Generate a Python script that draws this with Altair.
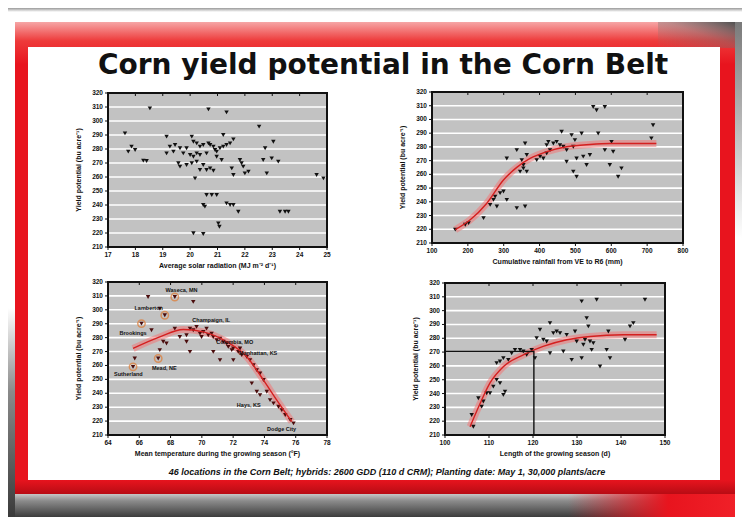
import altair as alt
import pandas as pd

W, H = 734, 509

# ---------------- data ----------------
title_text = "Corn yield potential in the Corn Belt"
footer_text = "46 locations in the Corn Belt; hybrids: 2600 GDD (110 d CRM); Planting date: May 1, 30,000 plants/acre"

y_ticks = [210, 220, 230, 240, 250, 260, 270, 280, 290, 300, 310, 320]
y_title = "Yield potential (bu acre\u207b\u00b9)"

# Panel 1: solar radiation
p1_ticks = [17, 18, 19, 20, 21, 22, 23, 24, 25]
p1_title = "Average solar radiation (MJ m\u207b\u00b2 d\u207b\u00b9)"
p1_x = [18.53, 20.67, 21.33, 22.52, 17.62, 19.14, 20.06, 21.21, 21.58, 23.04,
        17.86, 17.74, 17.99, 19.26, 19.45, 19.63, 19.87, 20.12, 20.24, 20.36,
        20.48, 20.67, 20.73, 20.85, 20.91, 20.97, 21.09, 21.21, 21.33, 21.46,
        22.74, 19.14, 19.39, 19.75, 20.00, 20.12, 20.24, 20.36, 20.60, 20.97,
        21.15, 21.82, 21.88, 22.67, 22.98, 23.22, 18.29, 18.41, 19.57, 19.63,
        19.87, 20.06, 20.24, 20.48, 20.36, 20.60, 20.73, 20.85, 21.52, 21.58,
        21.94, 22.00, 22.13, 22.80, 20.18, 24.62, 24.87, 20.60, 20.79, 20.97,
        20.48, 20.54, 21.33, 21.46, 21.58, 21.76, 23.28, 23.47, 23.59, 21.03,
        21.07, 20.12, 20.48]
p1_y = [309.0, 308.3, 306.2, 296.0, 291.2, 288.8, 288.8, 290.0, 286.9, 285.2,
        281.7, 278.1, 279.3, 281.7, 282.9, 280.5, 280.5, 285.2, 284.0, 281.7,
        282.9, 284.0, 282.9, 281.7, 279.3, 278.1, 280.5, 281.7, 282.9, 284.0,
        280.5, 276.9, 278.1, 276.9, 275.7, 274.5, 276.9, 275.7, 276.9, 274.5,
        272.1, 272.1, 269.8, 272.1, 273.3, 271.0, 271.7, 271.4, 269.8, 267.4,
        268.6, 269.8, 271.0, 268.6, 265.0, 265.0, 266.2, 264.5, 266.2, 261.4,
        267.4, 262.6, 263.8, 262.6, 259.0, 261.4, 259.0, 247.1, 247.1, 247.1,
        240.0, 238.8, 241.2, 240.0, 240.0, 235.2, 235.2, 235.2, 235.2, 226.9,
        224.5, 219.8, 219.3]

# Panel 2: rainfall
p2_ticks = [100, 200, 300, 400, 500, 600, 700, 800]
p2_title = "Cumulative rainfall from VE to R6 (mm)"
p2_x = [164.9, 192.7, 202.0, 243.7, 262.2, 271.5, 280.8, 290.0, 299.3, 308.6,
        276.1, 336.4, 359.6, 308.6, 336.4, 350.3, 354.9, 364.2, 359.6, 354.9,
        345.7, 364.2, 392.0, 401.3, 410.5, 419.8, 429.1, 419.8, 424.5, 438.4,
        447.6, 456.9, 466.2, 475.4, 461.5, 489.3, 498.6, 517.2, 494.0, 503.2,
        521.8, 540.3, 475.4, 494.0, 503.2, 531.1, 549.6, 558.9, 582.0, 563.5,
        600.6, 582.0, 605.2, 595.9, 619.1, 628.4, 716.5, 711.8]
p2_y = [219.7, 223.3, 224.5, 228.1, 237.8, 241.4, 236.6, 246.3, 247.5, 241.4,
        243.8, 235.4, 236.6, 271.6, 277.7, 270.4, 266.8, 274.1, 282.5, 264.4,
        262.0, 262.0, 270.4, 272.9, 271.6, 275.3, 277.7, 281.3, 283.7, 282.5,
        283.7, 281.3, 280.1, 277.7, 291.0, 288.6, 284.9, 289.8, 280.1, 271.6,
        272.9, 274.1, 269.2, 262.0, 258.3, 266.8, 309.1, 306.7, 309.1, 289.8,
        283.7, 277.7, 276.5, 266.8, 258.3, 264.4, 295.8, 286.2]
p2_fit_x = [164.9, 206.6, 253.0, 299.3, 336.4, 373.5, 419.8, 475.4, 540.3, 596.0, 725.7]
p2_fit_y = [219.7, 226.9, 239.0, 255.9, 265.1, 271.6, 276.5, 280.1, 281.8, 282.5, 282.5]

# Panel 3: temperature
p3_ticks = [64, 66, 68, 70, 72, 74, 76, 78]
p3_title = "Mean temperature during the growing season (\u00b0F)"
p3_x = [68.27, 66.56, 69.45, 67.63, 67.31, 66.14, 66.78, 68.27, 68.59, 69.02,
        69.24, 69.45, 69.66, 69.88, 69.98, 70.09, 70.30, 70.41, 70.62, 70.73,
        70.95, 71.16, 71.37, 71.59, 71.69, 71.91, 72.01, 72.33, 72.55, 72.87,
        73.08, 73.30, 73.51, 73.72, 73.94, 73.19, 73.51, 73.72, 74.15, 74.36,
        74.58, 74.90, 75.11, 75.33, 75.65, 75.86, 67.31, 67.21, 67.53, 67.74,
        69.24, 65.60, 65.71, 69.02, 70.73, 71.16, 72.01, 72.44]
p3_y = [309.2, 309.2, 305.7, 296.1, 300.9, 290.1, 285.3, 286.5, 280.5, 281.7,
        286.5, 285.3, 287.7, 282.9, 280.5, 284.1, 286.5, 281.7, 282.9, 280.5,
        278.2, 279.3, 277.0, 275.8, 273.4, 271.0, 272.2, 269.8, 267.4, 266.2,
        263.8, 260.2, 256.6, 254.2, 249.5, 247.1, 241.1, 238.7, 241.1, 235.1,
        232.7, 230.3, 227.9, 224.4, 220.8, 218.4, 271.0, 265.0, 277.0, 275.8,
        269.8, 259.0, 265.0, 277.0, 269.8, 263.8, 263.8, 272.2]
p3_circ_x = [68.27, 67.63, 66.14, 67.21, 65.60]
p3_circ_y = [309.2, 296.1, 290.1, 265.0, 259.0]
p3_fit_x = [65.60, 67.31, 68.81, 70.09, 71.59, 72.87, 73.94, 74.79, 75.75]
p3_fit_y = [272.2, 280.5, 285.8, 284.1, 277.0, 266.2, 249.5, 235.1, 219.6]
p3_lab = ["Waseca, MN", "Lamberton", "Brookings", "Mead, NE", "Sutherland",
          "Champaign, IL", "Columbia, MO", "Manhattan, KS", "Hays, KS", "Dodge City"]
p3_lab_x = [68.7, 66.6, 65.6, 67.6, 65.3, 70.6, 72.1, 73.6, 73.0, 75.1]
p3_lab_y = [314.5, 301.5, 283.5, 258.5, 254.0, 292.5, 277.0, 268.6, 231.5, 214.0]

# Panel 4: season length
p4_ticks = [100, 110, 120, 130, 140, 150]
p4_title = "Length of the growing season (d)"
p4_x = [106.06, 106.44, 107.58, 108.33, 108.71, 109.47, 110.23, 110.98, 111.74, 112.50,
        113.26, 113.64, 111.74, 112.50, 113.26, 114.39, 115.15, 115.91, 117.05, 117.80,
        118.56, 119.70, 120.45, 120.83, 121.59, 122.35, 123.11, 123.86, 123.86, 124.62,
        125.38, 126.14, 126.89, 127.65, 128.79, 129.55, 129.92, 131.06, 131.06, 131.44,
        131.82, 132.20, 132.58, 132.95, 133.33, 133.71, 134.47, 135.23, 136.74, 137.12,
        137.50, 140.91, 142.05, 142.80, 145.45]
p4_y = [224.5, 216.0, 236.6, 230.5, 234.2, 240.2, 240.2, 245.0, 249.9, 247.5,
        239.0, 241.4, 262.0, 263.2, 265.6, 264.4, 269.2, 271.6, 271.6, 270.4,
        268.0, 271.6, 265.6, 280.1, 286.2, 278.9, 277.7, 291.0, 269.2, 283.7,
        284.9, 283.7, 270.4, 282.5, 264.4, 284.9, 277.7, 265.6, 306.7, 275.3,
        278.9, 294.6, 288.6, 277.7, 271.6, 276.5, 307.9, 259.6, 271.6, 284.9,
        265.6, 278.9, 288.6, 291.0, 307.9]
p4_fit_x = [105.7, 108.0, 110.2, 113.3, 117.8, 122.3, 127.7, 133.0, 140.5, 148.1]
p4_fit_y = [216.0, 233.0, 247.5, 259.6, 268.0, 274.1, 278.9, 281.3, 282.5, 282.5]
p4_ref_x = [100, 120.2, 120.2]
p4_ref_y = [270.4, 270.4, 210]

# ---------------- helpers ----------------
ONE = pd.DataFrame({"k": [0]})
FONT = "Liberation Sans"
INK = "#111111"


def grad(stops, x1=0, y1=0, x2=0, y2=1):
    return alt.LinearGradient(gradient="linear",
                              stops=[alt.GradientStop(color=c, offset=o) for o, c in stops],
                              x1=x1, y1=y1, x2=x2, y2=y2)


def deco(x0, x1, y0, y1, fill):
    return alt.Chart(ONE).mark_rect(fill=fill).encode(
        x=alt.value(x0), x2=alt.value(x1), y=alt.value(y0), y2=alt.value(y1))


def panel(xdom, xr, yr, xticks, xtitle, px, py, fit=None, pcolor=INK, extra=()):
    ydom = [y_ticks[0], y_ticks[-1]]
    xs = alt.Scale(domain=xdom, range=xr, nice=False, zero=False)
    ys = alt.Scale(domain=ydom, range=yr, nice=False, zero=False)

    def X(f):
        return alt.X(f, scale=xs, axis=None)

    def Y(f):
        return alt.Y(f, scale=ys, axis=None)

    box = pd.DataFrame({"x0": [xdom[0]], "x1": [xdom[1]], "y0": [ydom[0]], "y1": [ydom[1]],
                        "xm": [(xdom[0] + xdom[1]) / 2], "ym": [(ydom[0] + ydom[1]) / 2],
                        "xt": [xtitle], "yt": [y_title]})
    layers = [alt.Chart(box).mark_rect(fill="#c2c2c2").encode(
        x=X("x0:Q"), x2="x1", y=Y("y0:Q"), y2="y1")]
    gdf = pd.DataFrame({"t": y_ticks, "x0": xdom[0], "x1": xdom[1]})
    layers.append(alt.Chart(gdf).mark_rule(color="white", strokeWidth=1.6).encode(
        y=Y("t:Q"), x=X("x0:Q"), x2="x1"))
    if fit is not None:
        fdf = pd.DataFrame({"x": fit[0], "y": fit[1]})
        layers.append(alt.Chart(fdf).mark_line(color="#f07878", strokeWidth=7, opacity=0.55,
                                               interpolate="monotone").encode(
            x=X("x:Q"), y=Y("y:Q")))
    pdf = pd.DataFrame({"x": px, "y": py})
    layers.append(alt.Chart(pdf).mark_point(shape="triangle-down", filled=True, size=20,
                                            color=pcolor, opacity=1).encode(
        x=X("x:Q"), y=Y("y:Q")))
    if fit is not None:
        fdf = pd.DataFrame({"x": fit[0], "y": fit[1]})
        layers.append(alt.Chart(fdf).mark_line(color="#d42020", strokeWidth=1.4,
                                               interpolate="monotone").encode(
            x=X("x:Q"), y=Y("y:Q")))
    for e in extra:
        layers.append(e(X, Y))
    # frame
    layers.append(alt.Chart(box).mark_rect(fillOpacity=0, stroke=INK, strokeWidth=2).encode(
        x=X("x0:Q"), x2="x1", y=Y("y0:Q"), y2="y1"))
    # ticks and labels, drawn through the panel scales
    xt = pd.DataFrame({"t": xticks, "yb": ydom[0], "yt": ydom[1]})
    yt = pd.DataFrame({"t": y_ticks, "xl": xdom[0]})
    layers += [
        alt.Chart(xt).mark_rule(color=INK, strokeWidth=1, y2Offset=3).encode(
            x=X("t:Q"), y=Y("yb:Q"), y2="yb"),
        alt.Chart(xt).mark_rule(color=INK, strokeWidth=1, y2Offset=3).encode(
            x=X("t:Q"), y=Y("yt:Q"), y2="yt"),
        alt.Chart(xt).mark_text(baseline="top", yOffset=5, fontSize=6.5, fontWeight="bold",
                                font=FONT, color=INK).encode(
            x=X("t:Q"), y=Y("yb:Q"), text="t:Q"),
        alt.Chart(yt).mark_rule(color=INK, strokeWidth=1, x2Offset=-3).encode(
            y=Y("t:Q"), x=X("xl:Q"), x2="xl"),
        alt.Chart(yt).mark_text(align="right", baseline="middle", xOffset=-5, fontSize=6.5,
                                fontWeight="bold", font=FONT, color=INK).encode(
            y=Y("t:Q"), x=X("xl:Q"), text="t:Q"),
        alt.Chart(box).mark_text(baseline="top", yOffset=15, fontSize=7, fontWeight="bold",
                                 font=FONT, color=INK).encode(
            x=X("xm:Q"), y=Y("y0:Q"), text="xt:N"),
        alt.Chart(box).mark_text(angle=270, baseline="middle", align="center", xOffset=-29,
                                 fontSize=7, fontWeight="bold", font=FONT, color=INK).encode(
            x=X("x0:Q"), y=Y("ym:Q"), text="yt:N"),
    ]
    return alt.layer(*layers)


# ---------------- decorations ----------------
decor = [
    deco(0, W, 0, 4, grad([(0, "#9a9a9a"), (1, "#ffffff")])),
    deco(0, 8, 300, H, grad([(0, "#ffffff"), (0.4, "#8a8a8a"), (1, "#3a3a3a")])),
    deco(7, 727, 484, H, grad([(0, "#d8d8d8"), (0.35, "#8c8c8c"), (1, "#3c3c3c")])),
    deco(560, 727, 478, H, grad([(0, "rgba(230,20,30,0)"), (0.6, "#e8141e"), (1, "#f02028")],
                                x1=0, y1=0, x2=1, y2=0)),
    deco(727, W, 14, 230, grad([(0, "#7a7a7a"), (1, "#ffffff")])),
    deco(7, 727, 14, 486, grad([(0, "#f6a6a6"), (0.04, "#ee3a3a"), (0.09, "#e8141e"),
                                (0.97, "#e8141e"), (1, "#b80c14")])),
    deco(650, 727, 14, 40, grad([(0, "rgba(120,120,120,0)"), (0.55, "rgba(110,110,110,0.4)"),
                                 (1, "#505050")], x1=0, y1=1, x2=1, y2=0)),
    deco(20, 712, 39, 472, "#ffffff"),
]

title = alt.Chart(ONE).mark_text(text=title_text, font="DejaVu Sans", fontWeight="bold",
                                 fontSize=28, align="center", baseline="middle",
                                 color=INK).encode(x=alt.value(375), y=alt.value(58))
footer = alt.Chart(ONE).mark_text(text=footer_text, font=FONT, fontWeight="bold",
                                  fontStyle="italic", fontSize=9, align="center",
                                  baseline="middle", color=INK).encode(
    x=alt.value(379), y=alt.value(464))


# ---------------- panels ----------------
def p3_circles(X, Y):
    return alt.Chart(pd.DataFrame({"x": p3_circ_x, "y": p3_circ_y})).mark_point(
        shape="circle", filled=False, color="#e07a30", size=55, strokeWidth=1.5).encode(
        x=X("x:Q"), y=Y("y:Q"))


def p3_labels(X, Y):
    return alt.Chart(pd.DataFrame({"x": p3_lab_x, "y": p3_lab_y, "t": p3_lab})).mark_text(
        fontSize=5.5, fontWeight="bold", font=FONT, color=INK, align="center").encode(
        x=X("x:Q"), y=Y("y:Q"), text="t:N")


def p4_guide(X, Y):
    return alt.Chart(pd.DataFrame({"x": p4_ref_x, "y": p4_ref_y, "o": [0, 1, 2]})).mark_line(
        color=INK, strokeWidth=1.4).encode(x=X("x:Q"), y=Y("y:Q"), order="o:Q")


panel1 = panel([17, 25], [100, 319], [239, 85], p1_ticks, p1_title, p1_x, p1_y)
panel2 = panel([100, 800], [424, 675], [235, 84], p2_ticks, p2_title, p2_x, p2_y,
               fit=(p2_fit_x, p2_fit_y))
panel3 = panel([64, 78], [100, 319], [427, 274], p3_ticks, p3_title, p3_x, p3_y,
               fit=(p3_fit_x, p3_fit_y), pcolor="#4a0c0c", extra=(p3_circles, p3_labels))
panel4 = panel([100, 150], [437, 657], [427, 275], p4_ticks, p4_title, p4_x, p4_y,
               fit=(p4_fit_x, p4_fit_y), extra=(p4_guide,))

chart = alt.layer(*decor, title, footer, panel1, panel2, panel3, panel4).resolve_scale(
    x="independent", y="independent").properties(
    width=W, height=H, autosize=alt.AutoSizeParams(type="none"), padding=0,
    background="white").configure_view(stroke=None)

chart.save("out.html", embed_options={"renderer": "svg", "actions": False})
